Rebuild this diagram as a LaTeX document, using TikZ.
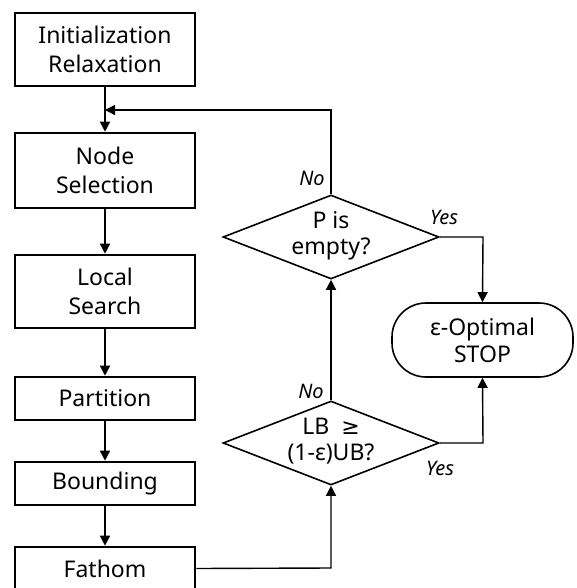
\documentclass[tikz,border=0pt]{standalone}
\usepackage{fontspec}
\setmainfont{Noto Sans}
\newfontfamily\symfont{DejaVu Sans}
\usetikzlibrary{shapes.geometric,arrows.meta}
\begin{document}
\begin{tikzpicture}[x=1pt,y=-1pt,
  stepbox/.style={draw, line width=2.6pt, minimum width=180pt, inner sep=0pt, align=center, font=\fontsize{23}{29}\selectfont},
  dia/.style={draw, diamond, line width=1.6pt, minimum width=216pt, minimum height=84pt, inner sep=0pt, aspect=2.57},
  diatext/.style={align=center, font=\fontsize{23}{26}\selectfont, inner sep=0pt},
  term/.style={draw, line width=1.6pt, rounded corners=34pt, minimum width=181pt, minimum height=74pt, inner sep=0pt, align=center, font=\fontsize{23}{27}\selectfont},
  conn/.style={line width=1.4pt, -{Triangle[length=10pt,width=10pt]}},
  lab/.style={font=\fontsize{20}{22}\selectfont\itshape, inner sep=0pt}
]
\useasboundingbox (0,0) rectangle (576,588);
\node[stepbox, minimum height=73pt] (init) at (105,49.5) {Initialization\\Relaxation};
\node[stepbox, minimum height=75pt] (sel) at (105,170.5) {Node\\Selection};
\node[stepbox, minimum height=73pt] (ls) at (105,291.5) {Local\\Search};
\node[stepbox, minimum height=43pt] (part) at (105,398.5) {Partition};
\node[stepbox, minimum height=43pt] (bound) at (105,483.5) {Bounding};
\node[stepbox, minimum height=43pt] (fath) at (105,568.5) {Fathom};

\node[dia] (d1) at (331,237) {};
\node[diatext] (t1) at (331,236) {P is\\empty?};
\node[dia] (d2) at (331,443) {};
\node[diatext] (t2) at (331,441) {LB~~{\symfont\fontsize{22}{26}\selectfont ≥}\\(1-ε)UB?};

\node[term] (stop) at (482.5,340) {ε-Optimal\\STOP};

\coordinate (loop1) at (331,110);
\coordinate (loop2) at (105,110);
\coordinate (fr) at (331,568);
\coordinate (y1) at (483,237);
\coordinate (y2) at (483,443);

\draw[conn] (init.south) -- (sel.north);
\draw[conn] (sel.south) -- (ls.north);
\draw[conn] (ls.south) -- (part.north);
\draw[conn] (part.south) -- (bound.north);
\draw[conn] (bound.south) -- (fath.north);
\draw[conn] (fath.east) -- (fr) -- (d2.south);
\draw[conn] (d2.north) -- (d1.south);
\draw[conn] (d1.north) -- (loop1) -- (loop2);
\draw[conn] (d1.east) -- (y1) -- (stop.north);
\draw[conn] (d2.east) -- (y2) -- (stop.south);

\node[lab] (no1) at (312,178) {No};
\node[lab] (yes1) at (444,217.5) {Yes};
\node[lab] (no2) at (311,391) {No};
\node[lab] (yes2) at (440,468) {Yes};
\end{tikzpicture}
\end{document}
